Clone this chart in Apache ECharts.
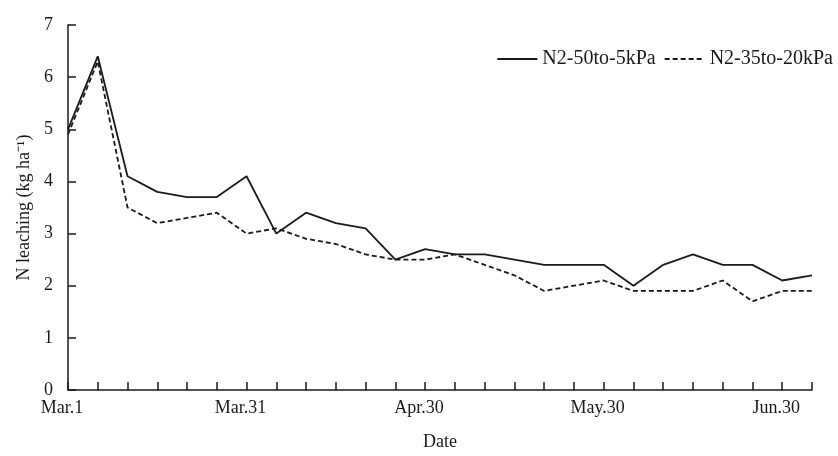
<!DOCTYPE html>
<html>
<head>
<meta charset="utf-8">
<script src="https://cdn.jsdelivr.net/npm/echarts@6/dist/echarts.min.js"></script>
<style>html,body{margin:0;padding:0;background:#fff}#c{width:838px;height:456px}</style>
</head>
<body>
<div id="c"></div>
<script>
const categories = ["Mar.1","","","","","","Mar.31","","","","","","Apr.30","","","","","","May.30","","","","","","Jun.30",""];
const seriesNames = ["N2-50to-5kPa","N2-35to-20kPa"];
const solidValues = [5.0,6.4,4.1,3.8,3.7,3.7,4.1,3.0,3.4,3.2,3.1,2.5,2.7,2.6,2.6,2.5,2.4,2.4,2.4,2.0,2.4,2.6,2.4,2.4,2.1,2.2];
const dashedValues = [4.9,6.3,3.5,3.2,3.3,3.4,3.0,3.1,2.9,2.8,2.6,2.5,2.5,2.6,2.4,2.2,1.9,2.0,2.1,1.9,1.9,1.9,2.1,1.7,1.9,1.9];
const yTicks = [0,1,2,3,4,5,6,7];

const font = "'Liberation Serif','Times New Roman',serif";
const ink = '#1a1a1a';
const chart = echarts.init(document.getElementById('c'));
chart.setOption({
  animation: false,
  textStyle: {fontFamily: font, color: ink},
  grid: {left: 68, right: 26, top: 25, bottom: 66},
  legend: {
    right: 0, top: 44, itemWidth: 40, itemHeight: 14, itemGap: 8,
    itemStyle: {opacity: 0},
    textStyle: {fontFamily: font, fontSize: 20, color: ink},
    data: seriesNames
  },
  xAxis: {
    type: 'category', data: categories, boundaryGap: false,
    name: 'Date', nameLocation: 'middle', nameGap: 43,
    nameTextStyle: {fontFamily: font, fontSize: 18, color: ink},
    axisLine: {lineStyle: {color: ink, width: 1.5}},
    axisTick: {inside: true, length: 8, interval: 0, lineStyle: {color: ink, width: 1.5}},
    axisLabel: {interval: 0, fontFamily: font, fontSize: 18, color: ink, margin: 9, padding: [0,12,0,0]}
  },
  yAxis: {
    type: 'value', min: yTicks[0], max: yTicks[yTicks.length-1], interval: 1,
    name: 'N leaching (kg ha\u207B\u00B9)', nameLocation: 'middle', nameGap: 31,
    nameTextStyle: {fontFamily: font, fontSize: 18, color: ink},
    axisLine: {show: true, lineStyle: {color: ink, width: 1.5}},
    axisTick: {show: true, inside: true, length: 8, lineStyle: {color: ink, width: 1.5}},
    axisLabel: {fontFamily: font, fontSize: 18, color: ink, margin: 15},
    splitLine: {show: false}
  },
  series: [
    {name: seriesNames[0], type: 'line', data: solidValues, symbol: 'none',
     lineStyle: {color: ink, width: 1.8, type: 'solid'}, itemStyle: {color: ink}},
    {name: seriesNames[1], type: 'line', data: dashedValues, symbol: 'none',
     lineStyle: {color: ink, width: 1.8, type: [5,3]}, itemStyle: {color: ink}}
  ]
});
</script>
</body>
</html>
